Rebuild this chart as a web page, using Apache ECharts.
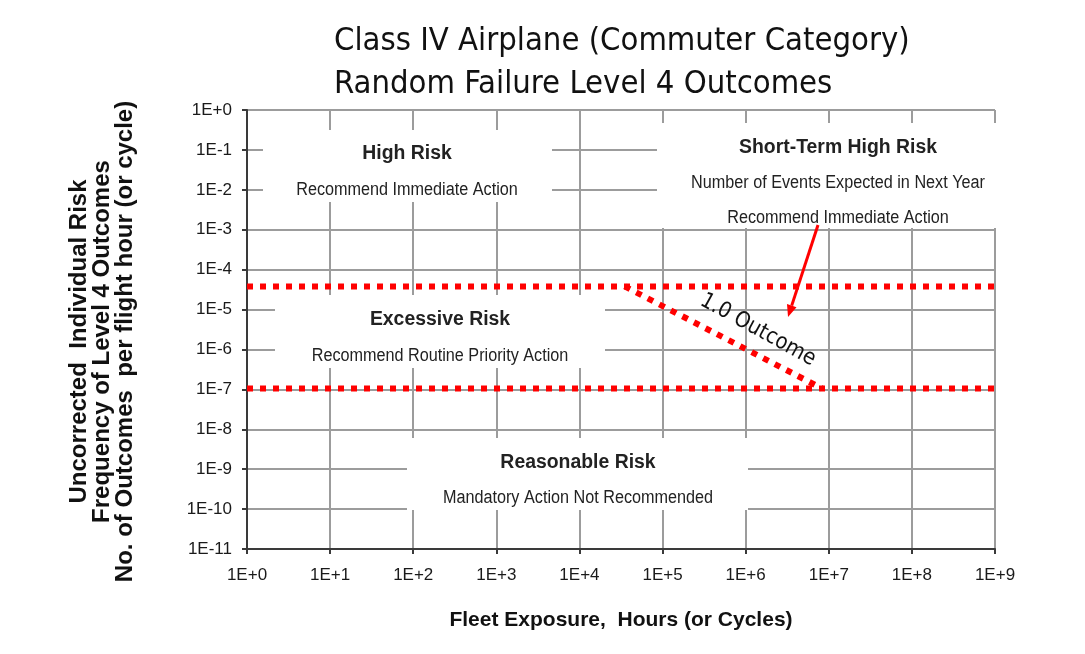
<!DOCTYPE html>
<html><head><meta charset="utf-8">
<script src="https://cdn.jsdelivr.net/npm/echarts@6/dist/echarts.min.js"></script>
<style>html,body{margin:0;padding:0;background:#fff}#c{width:1085px;height:654px}</style>
</head><body><div id="c"></div>
<script>
// ---- data ----
const titleLines = ['Class IV Airplane (Commuter Category)', 'Random Failure Level 4 Outcomes'];
const xTickLabels = ['1E+0','1E+1','1E+2','1E+3','1E+4','1E+5','1E+6','1E+7','1E+8','1E+9'];
const yTickLabels = ['1E-11','1E-10','1E-9','1E-8','1E-7','1E-6','1E-5','1E-4','1E-3','1E-2','1E-1','1E+0'];
const xAxisName = 'Fleet Exposure,  Hours (or Cycles)';
const yAxisNameLines = ['Uncorrected  Individual Risk', 'Frequency of Level 4 Outcomes', 'No. of Outcomes  per flight hour (or cycle)'];
const upperLimit = [[1, 3.8e-5], [1e9, 3.8e-5]];
const lowerLimit = [[1, 1.05e-7], [1e9, 1.05e-7]];
const oneOutcome = [[3.5e4, 3.8e-5], [8.3e6, 1.05e-7]];
const regionTitles = ['High Risk', 'Short-Term High Risk', 'Excessive Risk', 'Reasonable Risk'];
const regionNotes = [
  ['Recommend Immediate Action'],
  ['Number of Events Expected in Next Year', 'Recommend Immediate Action'],
  ['Recommend Routine Priority Action'],
  ['Mandatory Action Not Recommended']
];
const outcomeLabel = '1.0 Outcome';

// ---- layout / styles ----
const chart = echarts.init(document.getElementById('c'), null, {renderer: 'canvas'});
const tickFont = {fontFamily: '"Liberation Sans", Arial, sans-serif', fontSize: 17, color: '#1a1a1a'};
const boldFont = 'bold 20px "Liberation Sans", Arial, sans-serif';
const noteFont = '18px "Liberation Sans", Arial, sans-serif';
const redLine = {color: '#ff0000', width: 6, type: [6, 7], cap: 'butt'};

const boxes = [
  {x: 263, y: 130, w: 289, h: 72, cx: 407, ty: 153, ny: [190]},
  {x: 657, y: 123, w: 345, h: 105, cx: 838, ty: 147, ny: [183, 218]},
  {x: 275, y: 295, w: 330, h: 73, cx: 440, ty: 319, ny: [356]},
  {x: 407, y: 438, w: 341, h: 72, cx: 578, ty: 462, ny: [498]}
];
const graphics = [];
boxes.forEach((b, i) => {
  graphics.push({type: 'rect', z: 1, silent: true, shape: {x: b.x, y: b.y, width: b.w, height: b.h}, style: {fill: '#fff'}});
  graphics.push({type: 'text', z: 10, silent: true, x: b.cx, y: b.ty, scaleX: 0.97, style: {text: regionTitles[i], font: boldFont, fill: '#222', align: 'center', verticalAlign: 'middle'}});
  regionNotes[i].forEach((t, j) => {
    graphics.push({type: 'text', z: 10, silent: true, x: b.cx, y: b.ny[j], scaleX: 0.9, style: {text: t, font: noteFont, fill: '#222', align: 'center', verticalAlign: 'middle'}});
  });
});
graphics.push({type: 'text', z: 10, silent: true, x: 758, y: 330, rotation: -28.7 * Math.PI / 180,
  style: {text: outcomeLabel, font: '22px "DejaVu Sans Condensed", "DejaVu Sans", sans-serif', fill: '#111', align: 'center', verticalAlign: 'middle'}});
graphics.push({type: 'line', z: 10, silent: true, shape: {x1: 818, y1: 225, x2: 791.7, y2: 305.6}, style: {stroke: '#ff0000', lineWidth: 3}});
graphics.push({type: 'polygon', z: 10, silent: true, shape: {points: [[788, 317], [796.5, 307.2], [787, 304.1]]}, style: {fill: '#ff0000'}});

const option = {
  backgroundColor: '#fff',
  animation: false,
  title: {
    text: titleLines.join('\n'),
    left: 329, top: 15,
    textStyle: {fontFamily: '"DejaVu Sans Condensed", "DejaVu Sans", sans-serif', fontSize: 32.5, fontWeight: 'normal', color: '#111', lineHeight: 43}
  },
  grid: {left: 247, right: 90, top: 110, bottom: 105, containLabel: false},
  xAxis: {
    type: 'log', logBase: 10, min: 1, max: 1e9, interval: 1,
    name: xAxisName, nameLocation: 'middle', nameGap: 61,
    nameTextStyle: {fontFamily: '"Liberation Sans", Arial, sans-serif', fontSize: 21, fontWeight: 'bold', color: '#111'},
    axisLine: {show: true, lineStyle: {color: '#3a3a3a', width: 2}},
    axisTick: {show: true, inside: false, length: 5, lineStyle: {color: '#3a3a3a', width: 2}},
    axisLabel: Object.assign({margin: 18, formatter: v => xTickLabels[Math.round(Math.log10(v))]}, tickFont),
    splitLine: {show: true, lineStyle: {color: '#9c9c9c', width: 2}},
    minorTick: {show: false}
  },
  yAxis: {
    type: 'log', logBase: 10, min: 1e-11, max: 1, interval: 1,
    name: yAxisNameLines.join('\n'), nameLocation: 'middle', nameGap: 110, nameRotate: 90,
    nameTextStyle: {fontFamily: '"Liberation Sans", Arial, sans-serif', fontSize: 24, fontWeight: 'bold', color: '#111', lineHeight: 23, padding: [0, 24, 0, 0]},
    axisLine: {show: true, lineStyle: {color: '#3a3a3a', width: 2}},
    axisTick: {show: true, inside: false, length: 5, lineStyle: {color: '#3a3a3a', width: 2}},
    axisLabel: Object.assign({margin: 15, formatter: v => yTickLabels[Math.round(Math.log10(v)) + 11]}, tickFont),
    splitLine: {show: true, lineStyle: {color: '#9c9c9c', width: 2}}
  },
  series: [
    {type: 'line', z: 3, data: upperLimit, symbol: 'none', silent: true, lineStyle: redLine},
    {type: 'line', z: 3, data: lowerLimit, symbol: 'none', silent: true, lineStyle: redLine},
    {type: 'line', z: 3, data: oneOutcome, symbol: 'none', silent: true, lineStyle: redLine}
  ],
  graphic: graphics
};
chart.setOption(option);
</script></body></html>
